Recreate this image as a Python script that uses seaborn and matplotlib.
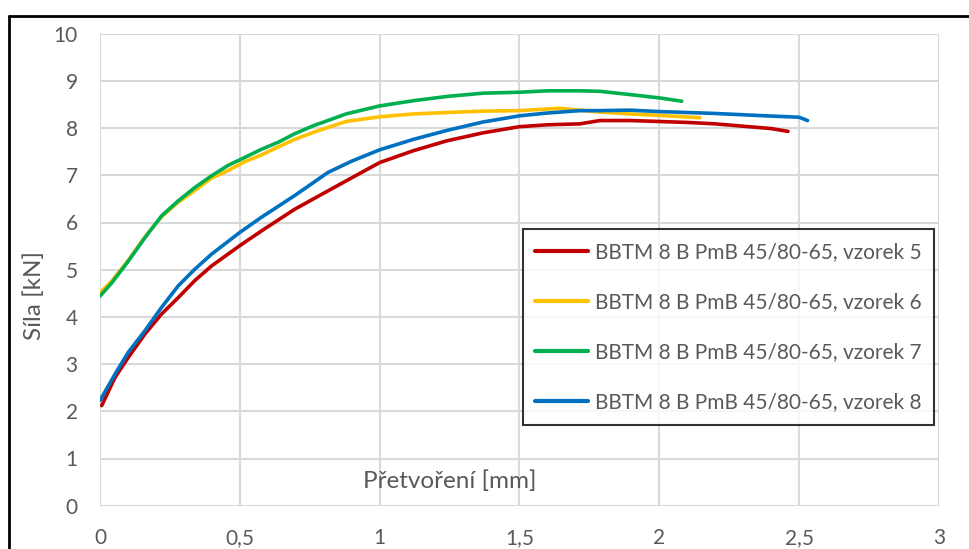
import pandas as pd
import matplotlib
matplotlib.use("Agg")
import matplotlib.pyplot as plt
import seaborn as sns

# values
labels = ["BBTM 8 B PmB 45/80-65, vzorek 5",
          "BBTM 8 B PmB 45/80-65, vzorek 6",
          "BBTM 8 B PmB 45/80-65, vzorek 7",
          "BBTM 8 B PmB 45/80-65, vzorek 8"]
colors = ["#C00000", "#FFC000", "#00B050", "#0070C0"]

x5 = [0.006, 0.054, 0.101, 0.161, 0.22, 0.28, 0.339, 0.399, 0.5, 0.577, 0.696, 0.815,
      0.935, 1.0, 1.12, 1.24, 1.37, 1.5, 1.6, 1.716, 1.787, 1.895, 2.0, 2.1, 2.2,
      2.32, 2.4, 2.46]
y5 = [2.12, 2.72, 3.14, 3.64, 4.06, 4.41, 4.77, 5.08, 5.51, 5.82, 6.28, 6.67,
      7.06, 7.27, 7.52, 7.73, 7.9, 8.03, 8.07, 8.09, 8.16, 8.16, 8.14, 8.12, 8.09,
      8.03, 7.99, 7.93]

x6 = [0, 0.042, 0.101, 0.161, 0.22, 0.28, 0.339, 0.399, 0.458, 0.518, 0.577, 0.637,
      0.696, 0.763, 0.88, 1.0, 1.12, 1.24, 1.37, 1.5, 1.645, 1.787, 1.895, 2.0, 2.145]
y6 = [4.51, 4.76, 5.2, 5.7, 6.12, 6.43, 6.68, 6.94, 7.1, 7.29, 7.43, 7.6,
      7.76, 7.91, 8.14, 8.24, 8.3, 8.33, 8.36, 8.37, 8.42, 8.34, 8.3, 8.27, 8.22]

x7 = [0, 0.042, 0.101, 0.161, 0.22, 0.28, 0.339, 0.399, 0.458, 0.518, 0.577, 0.637,
      0.696, 0.763, 0.88, 1.0, 1.12, 1.24, 1.37, 1.5, 1.6, 1.716, 1.787, 1.895,
      2.0, 2.08]
y7 = [4.44, 4.72, 5.18, 5.68, 6.14, 6.46, 6.74, 6.99, 7.21, 7.38, 7.55, 7.70,
      7.88, 8.05, 8.3, 8.47, 8.58, 8.67, 8.74, 8.76, 8.79, 8.79, 8.78, 8.71,
      8.64, 8.57]

x8 = [0, 0.054, 0.101, 0.161, 0.22, 0.28, 0.339, 0.399, 0.5, 0.577, 0.696, 0.815,
      0.9, 1.0, 1.12, 1.24, 1.37, 1.5, 1.6, 1.716, 1.787, 1.895, 2.0, 2.2, 2.38,
      2.5, 2.53]
y8 = [2.23, 2.79, 3.25, 3.71, 4.2, 4.66, 5.01, 5.33, 5.79, 6.11, 6.57, 7.06,
      7.3, 7.54, 7.76, 7.95, 8.13, 8.26, 8.32, 8.37, 8.37, 8.38, 8.35, 8.31, 8.26,
      8.23, 8.16]

xticks = [0, 0.5, 1, 1.5, 2, 2.5, 3]
xtick_labels = ["0", "0,5", "1", "1,5", "2", "2,5", "3"]
yticks = list(range(0, 11))

frames = []
for lab, xs, ys in zip(labels, [x5, x6, x7, x8], [y5, y6, y7, y8]):
    frames.append(pd.DataFrame({"x": xs, "y": ys, "serie": lab}))
df = pd.concat(frames, ignore_index=True)

sns.set_theme(style="white")
plt.rcParams["font.family"] = ["Lato", "DejaVu Sans"]
grey = "#595959"

fig = plt.figure(figsize=(9.7, 5.49), dpi=100)
ax = fig.add_axes([100 / 970, 1 - 505.7 / 549, 839 / 970, 472 / 549])

sns.lineplot(data=df, x="x", y="y", hue="serie", palette=colors, sort=False,
             estimator=None, linewidth=2.6, ax=ax)

ax.set_xlim(0, 3)
ax.set_ylim(0, 10)
ax.set_xticks(xticks)
ax.set_xticklabels(xtick_labels)
ax.set_yticks(yticks)
ax.grid(True, color="#d9d9d9", linewidth=1.5)
ax.set_axisbelow(True)
for s in ax.spines.values():
    s.set_visible(False)
ax.tick_params(axis="both", length=0, labelsize=15, colors=grey)
ax.tick_params(axis="x", pad=16)
ax.tick_params(axis="y", pad=16)

ax.set_xlabel("Přetvoření [mm]", fontsize=17.5, color=grey)
ax.xaxis.label.set_va("center")
ax.xaxis.set_label_coords(0.417, 0.052)
ax.set_ylabel("Síla [kN]", fontsize=17.5, color=grey)
ax.yaxis.label.set_va("center")
ax.yaxis.set_label_coords(-0.079, 0.446)

leg = ax.legend(loc="upper left", bbox_to_anchor=(0.504, 0.5856), borderaxespad=0,
                fontsize=15, frameon=True, fancybox=False, labelspacing=1.45,
                handlelength=2.55, handletextpad=0.29, borderpad=0.6, title=None)
leg.get_frame().set_edgecolor("black")
leg.get_frame().set_linewidth(1.5)
for t in leg.get_texts():
    t.set_color(grey)
for h in leg.get_lines():
    h.set_linewidth(3)

# outer frame of the original chart (only top and left visible)
fig.add_artist(plt.Line2D([9.5 / 970, 1.0], [1 - 15.5 / 549] * 2,
                          transform=fig.transFigure, color="black", linewidth=2))
fig.add_artist(plt.Line2D([9.5 / 970] * 2, [0, 1 - 15.5 / 549],
                          transform=fig.transFigure, color="black", linewidth=2))

fig.savefig("out.png", dpi=100)
